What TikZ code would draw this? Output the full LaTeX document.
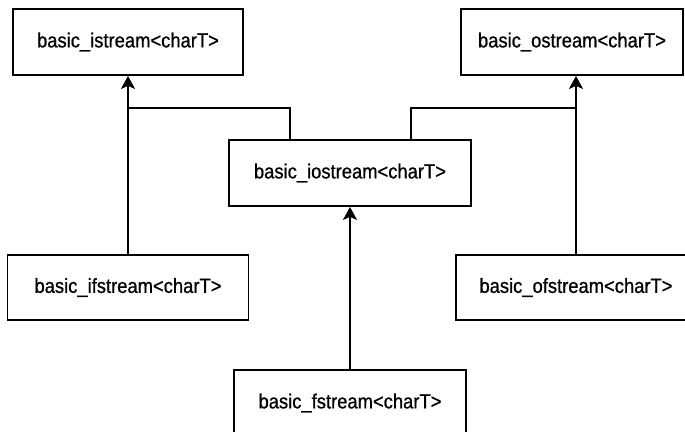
\documentclass[tikz,border=0pt]{standalone}
\usepackage{fontspec}
\setmainfont[FakeStretch=0.9, FakeBold=0.8]{Liberation Sans}
\usetikzlibrary{arrows.meta}

\begin{document}
\begin{tikzpicture}[x=1bp, y=-1bp,
    cls/.style={draw, line width=1.8bp, minimum height=66bp, inner sep=0pt,
        font=\fontsize{20.5}{24}\selectfont},
    link/.style={line width=1.8bp},
    inh/.style={link, -{Stealth[length=13bp, width=14bp, inset=3bp]}}]
    \useasboundingbox (0, 0) rectangle (685, 431);

    \node[cls, minimum width=230bp] (istream) at (128, 42) {basic\_istream<charT>};
    \node[cls, minimum width=222bp] (ostream) at (572, 42) {basic\_ostream<charT>};
    \node[cls, minimum width=242bp] (iostream) at (350, 173) {basic\_iostream<charT>};
    \node[cls, minimum width=241bp, minimum height=65bp] (ifstream) at (128, 287.5) {basic\_ifstream<charT>};
    \node[cls, minimum width=240bp, minimum height=65bp] (ofstream) at (576, 287.5) {basic\_ofstream<charT>};
    \node[cls, minimum width=232bp] (fstream) at (350, 403) {basic\_fstream<charT>};

    \coordinate (ljoin) at (128, 108);
    \coordinate (rjoin) at (576, 108);

    \draw[inh] (ifstream.north) -- (istream.south);
    \draw[inh] (ofstream.north) -- (ofstream.north |- ostream.south);
    \draw[inh] (fstream.north) -- (iostream.south);
    \draw[link] ([xshift=-60bp]iostream.north) |- (ljoin);
    \draw[link] ([xshift=61bp]iostream.north) |- (rjoin);
\end{tikzpicture}
\end{document}
